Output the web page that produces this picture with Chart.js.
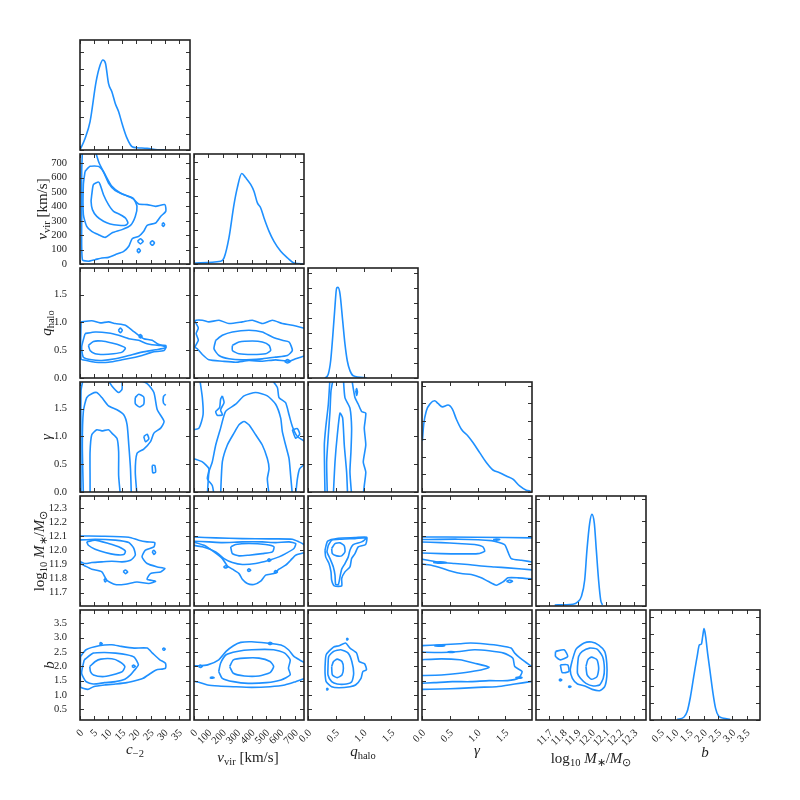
<!DOCTYPE html>
<html>
<head>
<meta charset="utf-8">
<script src="https://cdn.jsdelivr.net/npm/chart.js@4.4.1/dist/chart.umd.min.js"></script>
<style>
  body { margin: 0; background: #fff; }
  #fig { position: relative; width: 800px; height: 800px; }
  #fig canvas { position: absolute; }
  .lab { position: absolute; font-family: 'Liberation Serif', serif; font-size: 15px; line-height: 1;
         white-space: nowrap; color: #222; transform: translate(-50%, -50%); }
  .lab.rot { transform: translate(-50%, -50%) rotate(-90deg); }
  .lab sub { font-size: 70%; vertical-align: -0.3em; line-height: 0; }
</style>
</head>
<body>
<div id="fig"></div>
<script>
// 1D marginal densities [value, height in tick units]
const cDens = [[0,0],[1.79,0.71],[3.57,1.74],[5.71,4.19],[7.14,5.21],[8.1,5.52],[9.05,5.31],[10.1,4.09],[11.3,3.58],[12.5,2.86],[13.7,2.35],[14.9,1.63],[16.7,0.71],[18.5,0.2],[20.2,0.14],[23.8,0.1],[27.4,0.02],[30.4,0]];
const vDens = [[0,0.05],[12,0.06],[186,0.16],[209,0.36],[243,1.54],[278,3.51],[301,4.5],[332,5.35],[360,5.09],[394,4.7],[417,4.3],[441,3.61],[464,3.31],[487,2.72],[522,1.93],[556,1.34],[603,0.75],[650,0.36],[695,0.06],[765,0]];
const qDens = [[0.306,0],[0.366,0.27],[0.408,1.15],[0.444,2.71],[0.48,4.49],[0.516,6.0],[0.54,6.04],[0.576,5.6],[0.624,3.82],[0.665,2.27],[0.707,1.15],[0.755,0.49],[0.815,0.15],[1.055,0.02]];
const gDens = [[0.007,2.88],[0.031,3.82],[0.079,4.58],[0.151,4.99],[0.228,5.14],[0.288,4.99],[0.367,4.8],[0.468,4.9],[0.547,4.67],[0.619,4.1],[0.709,3.54],[0.827,3.16],[0.917,2.79],[1.038,2.22],[1.158,1.66],[1.277,1.24],[1.397,1.09],[1.518,0.9],[1.637,0.72],[1.757,0.34],[1.877,0.1],[1.955,0.06]];
const mDens = [[11.738,0.05],[11.867,0.08],[11.902,0.2],[11.926,0.44],[11.95,1.22],[11.966,2.63],[11.985,3.88],[12.001,4.3],[12.018,3.88],[12.032,2.63],[12.048,1.22],[12.063,0.28],[12.075,0.05]];
const bDens = [[1.073,0.04],[1.303,0.16],[1.421,0.49],[1.536,1.36],[1.65,2.53],[1.769,3.7],[1.849,4.39],[1.918,4.44],[1.963,4.87],[2.012,5.34],[2.068,4.87],[2.137,3.9],[2.231,2.73],[2.325,1.56],[2.416,0.68],[2.52,0.23],[2.694,0.1],[2.927,0.04]];

// contours, v_vir vs c_-2
const vc1 = [[4.17,482],[4.76,552],[6.55,570],[7.14,552],[8.33,482],[10.1,413],[11.9,366],[14.3,343],[16.1,320],[17.0,285],[16.1,269],[13.7,269],[10.7,278],[8.33,297],[5.95,331],[4.4,378],[3.93,436]];
const vc2 = [[1.79,644],[3.57,679],[6.55,679],[8.33,640],[10.1,563],[12.5,510],[16.1,478],[19.0,454],[20.2,401],[19.6,331],[17.9,269],[14.9,239],[11.3,216],[8.93,185],[6.55,204],[4.17,227],[2.38,262],[1.19,343],[1.19,552]];
const vc3 = [[5.6,775],[6.79,702],[8.93,621],[11.3,540],[14.3,494],[18.5,459],[20.8,417],[23.8,413],[26.8,401],[30.1,413],[30.4,366],[28.6,331],[26.8,285],[23.8,269],[22.6,227],[20.8,192],[18.5,176],[17.3,123],[15.5,88],[12.5,65],[10.1,46],[7.74,42],[5.36,30],[2.98,19],[0.83,30],[0.6,320],[0.6,644],[0.83,775]];
const vcI1 = [[20.4,158],[21.4,176],[22.4,158],[21.4,140]];
const vcI2 = [[24.8,146],[25.6,162],[26.4,146],[25.6,130]];
const vcI3 = [[20.2,93],[20.8,108],[21.4,93],[20.8,78]];
const vcI4 = [[29.0,274],[29.5,287],[30.0,274],[29.5,261]];

// q_halo vs c_-2
const qc1 = [[2.98,0.587],[4.76,0.659],[7.74,0.665],[11.3,0.629],[14.3,0.587],[16.1,0.538],[14.9,0.466],[11.9,0.436],[8.33,0.423],[5.36,0.436],[3.57,0.496]];
const qc2 = [[1.79,0.799],[5.36,0.829],[10.1,0.811],[13.7,0.768],[17.3,0.708],[20.8,0.678],[23.8,0.617],[28.0,0.587],[30.4,0.587],[30.4,0.544],[26.8,0.508],[22.0,0.466],[17.3,0.405],[12.5,0.345],[7.74,0.315],[4.17,0.327],[1.19,0.375],[0.6,0.557]];
const qc3 = [[0.36,1.01],[4.17,1.03],[7.14,0.992],[10.1,1.01],[12.5,0.98],[16.1,0.95],[18.5,0.859],[20.8,0.768],[22.6,0.708],[25.6,0.678],[27.4,0.617],[30.4,0.557],[29.8,0.496],[25.6,0.466],[22.0,0.405],[19.6,0.375],[14.9,0.327],[10.1,0.284],[5.36,0.284],[2.38,0.315],[0.36,0.345]];
const qcI1 = [[13.6,0.858],[14.3,0.9],[15.0,0.858],[14.3,0.816]];
const qcI2 = [[20.8,0.75],[21.4,0.78],[22.0,0.75],[21.4,0.72]];

// q_halo vs v_vir
const qv1 = [[267,0.587],[313,0.647],[406,0.665],[475,0.647],[522,0.587],[533,0.496],[498,0.436],[406,0.423],[313,0.436],[267,0.496]];
const qv2 = [[151,0.678],[197,0.768],[267,0.829],[382,0.859],[475,0.829],[545,0.738],[614,0.678],[661,0.647],[684,0.496],[649,0.405],[568,0.375],[475,0.345],[336,0.327],[243,0.345],[174,0.405],[139,0.526]];
const qv3 = [[775,0.405],[707,0.345],[661,0.302],[568,0.327],[475,0.302],[382,0.315],[290,0.284],[197,0.302],[104,0.327],[58,0.423],[23,0.526],[7,0.557],[30,0.68],[15,0.8],[30,0.9],[7,1.03],[58,1.04],[104,1.01],[174,1.04],[243,0.98],[336,1.01],[406,1.04],[475,0.98],[545,1.04],[614,0.98],[684,0.95],[775,0.889]];
const qvI1 = [[630,0.30],[650,0.33],[672,0.30],[650,0.27]];

// gamma vs c_-2
const gc1 = [[3.57,-0.05],[3.57,0.237],[3.57,0.724],[4.17,1.03],[5.95,1.12],[7.74,1.10],[10.1,1.12],[11.3,1.06],[13.1,0.967],[13.7,0.724],[13.7,0.298],[14.3,-0.05]];
const gc2 = [[1.19,-0.05],[0.83,0.846],[1.19,1.45],[2.38,1.70],[4.17,1.77],[5.95,1.79],[7.74,1.70],[10.1,1.55],[13.1,1.48],[15.5,1.39],[16.7,1.21],[17.3,0.846],[17.9,0.42],[18.2,-0.05]];
const gc3a = [[0.36,-0.05],[0.36,1.82],[1.19,2.05]];
const gc3b = [[9.52,2.05],[11.3,1.91],[13.7,1.79],[14.9,1.85],[14.9,2.05]];
const gc3c = [[19.6,2.05],[23.8,1.95],[26.2,1.79],[27.4,1.48],[29.8,1.27],[28.6,1.15],[26.2,1.06],[25.0,0.906],[22.6,0.773],[20.2,0.693],[19.6,0.359],[20.2,-0.05]];
const gcI1 = [[19.6,1.70],[20.8,1.76],[22.6,1.71],[22.6,1.58],[21.1,1.53],[19.6,1.59]];
const gcI2 = [[22.6,1.0],[23.8,1.04],[24.4,0.955],[23.2,0.906]];
const gcI3 = [[25.6,0.48],[26.5,0.48],[26.8,0.359],[25.8,0.347]];
const gcI4 = [[30.4,1.76],[29.6,1.72],[29.6,1.60],[30.4,1.56]];

// gamma vs v_vir
const gv1 = [[185,-0.05],[197,0.541],[232,0.846],[278,1.06],[313,1.21],[348,1.27],[382,1.21],[429,1.03],[475,0.846],[510,0.602],[522,0.42],[510,0.237],[522,-0.05]];
const gv2 = [[93,-0.05],[104,0.359],[127,0.541],[151,0.846],[185,1.15],[220,1.45],[290,1.58],[348,1.73],[429,1.79],[510,1.73],[568,1.58],[603,1.33],[614,1.09],[637,0.846],[661,0.602],[672,0.298],[684,-0.05]];
const gv3a = [[39,2.05],[58,1.70],[63,1.39],[35,1.15],[-5,1.12]];
const gv3b = [[-5,0.602],[58,0.541],[104,0.42],[93,0.237],[127,0.116],[139,-0.05]];
const gv3c = [[533,2.05],[580,1.88],[591,1.70],[637,1.61],[661,1.39],[684,1.18],[719,0.998],[775,0.906]];
const gv3d = [[775,0.511],[735,0.42],[719,0.237],[707,-0.05]];
const gvI1 = [[197,1.73],[209,1.61],[185,1.48],[197,1.39],[162,1.38],[151,1.45],[178,1.52],[185,1.67]];
const gvI2 = [[684,1.12],[719,1.14],[735,1.04],[707,0.967]];

// gamma vs q_halo
const gq1 = [[0.456,-0.05],[0.486,0.541],[0.528,1.03],[0.576,1.42],[0.624,1.33],[0.653,0.846],[0.695,0.359],[0.713,-0.05]];
const gq2a = [[0.348,-0.05],[0.336,0.541],[0.366,1.03],[0.396,1.45],[0.414,1.82],[0.456,2.05]];
const gq2b = [[0.636,2.05],[0.665,1.70],[0.755,1.51],[0.785,1.15],[0.773,0.724],[0.755,0.359],[0.785,-0.05]];
const gq3a = [[0.306,-0.05],[0.294,0.846],[0.318,1.15],[0.366,1.58],[0.396,2.05]];
const gq3b = [[0.785,2.05],[0.845,1.70],[0.905,1.58],[0.965,1.45],[1.04,1.42],[1.013,1.15],[1.04,0.846],[0.995,0.541],[1.04,0.359],[1.013,0.116],[0.995,-0.05]];
const gqI1 = [[0.86,1.82],[0.875,1.86],[0.89,1.80],[0.875,1.74]];

// log10 M* vs c_-2
const mc1 = [[2.38,12.059],[5.36,12.071],[10.1,12.047],[13.7,12.024],[16.1,11.993],[15.5,11.969],[12.5,11.969],[8.93,11.984],[5.36,12.007],[2.98,12.035]];
const mc2 = [[-1,12.071],[5.36,12.078],[12.5,12.071],[17.3,12.054],[19.0,12.016],[19.6,11.965],[17.9,11.929],[14.9,11.918],[11.3,11.922],[7.74,11.918],[4.17,11.913],[1.79,11.906],[-1,11.929]];
const mc3 = [[-1,12.101],[7.74,12.099],[17.3,12.092],[20.8,12.071],[23.8,12.059],[26.5,12.054],[26.2,12.024],[23.2,12.0],[22.0,11.953],[23.8,11.906],[27.4,11.882],[30.1,11.871],[28.6,11.847],[25.0,11.835],[23.8,11.795],[26.8,11.781],[24.4,11.765],[20.2,11.776],[16.1,11.760],[12.5,11.758],[9.52,11.788],[7.74,11.847],[4.17,11.866],[1.79,11.889],[-1,11.918]];
const mcI1 = [[25.6,11.99],[26.2,12.0],[26.8,11.984],[26.2,11.97]];
const mcI2 = [[8.5,11.788],[8.93,11.8],[9.4,11.788],[8.93,11.776]];
const mcI3 = [[15.3,11.85],[16.1,11.86],[16.9,11.847],[16.1,11.835]];

// log10 M* vs v_vir
const mv1 = [[255,12.024],[290,12.040],[382,12.047],[498,12.040],[556,12.024],[545,11.988],[475,11.976],[382,11.965],[313,11.960],[267,11.976]];
const mv2 = [[-5,12.064],[104,12.059],[197,12.054],[336,12.059],[475,12.059],[568,12.054],[661,12.059],[707,12.047],[695,12.012],[637,11.976],[591,11.953],[522,11.929],[429,11.906],[336,11.899],[267,11.913],[209,11.941],[151,11.988],[58,12.024],[-5,12.035]];
const mv3a = [[-5,12.094],[151,12.087],[336,12.082],[522,12.080],[684,12.078],[730,12.059],[775,12.035]];
const mv3b = [[775,11.984],[707,11.965],[672,11.929],[637,11.894],[591,11.866],[556,11.835],[498,11.824],[464,11.781],[417,11.758],[371,11.765],[336,11.795],[313,11.835],[267,11.866],[232,11.889],[197,11.941],[139,11.988],[70,12.035],[-5,12.059]];
const mvI1 = [[510,11.93],[522,11.94],[534,11.93],[522,11.92]];
const mvI2 = [[556,11.847],[568,11.857],[580,11.847],[568,11.837]];
const mvI3 = [[370,11.859],[382,11.868],[394,11.859],[382,11.85]];
const mvI4 = [[205,11.882],[220,11.89],[235,11.882],[220,11.874]];

// log10 M* vs q_halo
const mq1 = [[0.426,12.012],[0.486,12.047],[0.576,12.052],[0.653,12.031],[0.665,11.988],[0.606,11.960],[0.516,11.960],[0.438,11.976]];
const mq2 = [[0.366,12.035],[0.426,12.071],[0.606,12.078],[0.845,12.082],[1.055,12.087],[0.965,12.059],[0.815,12.040],[0.755,12.0],[0.725,11.953],[0.665,11.906],[0.606,11.866],[0.576,11.812],[0.546,11.758],[0.498,11.758],[0.486,11.824],[0.456,11.882],[0.396,11.941],[0.342,11.988]];
const mq3 = [[0.306,12.0],[0.354,12.064],[0.546,12.085],[0.845,12.089],[1.055,12.092],[1.037,12.040],[0.905,12.024],[0.845,11.976],[0.785,11.941],[0.755,11.882],[0.665,11.847],[0.606,11.8],[0.606,11.748],[0.474,11.748],[0.426,11.788],[0.414,11.847],[0.378,11.906],[0.318,11.953]];

// log10 M* vs gamma
const mg1 = [[-0.05,12.059],[0.348,12.054],[0.647,12.047],[0.947,12.040],[1.097,12.024],[1.127,11.993],[1.007,11.976],[0.647,11.974],[0.348,11.976],[-0.05,11.981]];
const mg2a = [[-0.05,12.075],[0.647,12.078],[1.247,12.068],[1.487,12.040],[1.547,11.988],[1.607,11.941],[1.787,11.929],[2.05,11.913]];
const mg2b = [[2.05,11.859],[1.547,11.875],[1.307,11.882],[1.067,11.889],[0.827,11.899],[0.588,11.906],[0.348,11.913],[0.108,11.929],[-0.05,11.941]];
const mg3a = [[-0.05,12.094],[0.947,12.092],[2.05,12.087]];
const mg3b = [[2.05,11.795],[1.727,11.805],[1.547,11.805],[1.457,11.776],[1.337,11.753],[1.187,11.781],[1.067,11.805],[0.887,11.828],[0.707,11.835],[0.528,11.852],[0.348,11.875],[0.168,11.894],[-0.05,11.906]];
const mgI1 = [[1.52,11.781],[1.577,11.79],[1.63,11.781],[1.577,11.772]];
const mgI2 = [[0.2,11.913],[0.32,11.918],[0.44,11.913],[0.32,11.908]];
const mgI3 = [[1.28,12.075],[1.337,12.079],[1.40,12.075],[1.337,12.071]];

// b vs c_-2
const bc1 = [[3.46,1.99],[5.42,2.167],[7.39,2.25],[11.3,2.261],[13.9,2.167],[15.9,1.99],[15.0,1.815],[11.3,1.697],[8.04,1.639],[4.77,1.697],[3.72,1.815]];
const bc2 = [[1.49,2.226],[4.77,2.461],[8.7,2.485],[12.6,2.461],[16.6,2.403],[19.2,2.32],[20.7,2.05],[19.2,1.85],[17.9,1.697],[15.9,1.544],[12.6,1.462],[8.7,1.427],[4.77,1.38],[2.15,1.462],[0.58,1.756]];
const bc3 = [[0.18,2.344],[2.15,2.579],[6.73,2.72],[11.3,2.755],[14.6,2.696],[19.2,2.637],[23.8,2.637],[25.7,2.461],[28.3,2.226],[30.3,2.108],[30.3,1.932],[27.0,1.874],[25.1,1.756],[22.4,1.58],[20.5,1.521],[16.6,1.427],[12.6,1.38],[8.7,1.345],[4.77,1.286],[2.8,1.192],[0.18,1.286]];
const bcI1 = [[6.9,2.79],[7.39,2.83],[7.9,2.79],[7.39,2.75]];
const bcI2 = [[29.2,2.6],[29.7,2.64],[30.2,2.6],[29.7,2.56]];
const bcI3 = [[18.4,2.0],[19.0,2.04],[19.6,2.0],[19.0,1.96]];

// b vs v_vir
const bv1 = [[248,1.99],[274,2.226],[350,2.285],[452,2.285],[529,2.167],[554,1.99],[529,1.78],[452,1.662],[350,1.662],[274,1.756]];
const bv2 = [[172,1.815],[185,2.108],[223,2.403],[299,2.52],[401,2.579],[554,2.579],[631,2.461],[669,2.226],[657,1.932],[669,1.697],[605,1.521],[503,1.427],[376,1.403],[274,1.462],[197,1.58]];
const bv3a = [[-5,2.014],[14,2.014],[95,2.05],[172,2.226],[223,2.52],[274,2.72],[325,2.837],[401,2.86],[503,2.814],[605,2.743],[657,2.579],[695,2.344],[733,2.226],[775,2.108]];
const bv3b = [[775,1.58],[707,1.462],[631,1.345],[529,1.286],[401,1.263],[274,1.286],[172,1.31],[95,1.345],[44,1.427],[14,1.462],[-5,1.48]];
const bvI1 = [[30,2.0],[44,2.04],[58,2.0],[44,1.96]];
const bvI2 = [[515,2.8],[529,2.84],[543,2.8],[529,2.76]];
const bvI3 = [[110,1.6],[125,1.62],[140,1.6],[125,1.58]];

// b vs q_halo
const bq1 = [[0.426,1.99],[0.459,2.167],[0.525,2.25],[0.611,2.167],[0.637,1.932],[0.611,1.697],[0.525,1.603],[0.439,1.697]];
const bq2 = [[0.36,1.99],[0.373,2.344],[0.459,2.52],[0.591,2.579],[0.723,2.461],[0.789,2.167],[0.822,1.756],[0.789,1.462],[0.69,1.38],[0.525,1.38],[0.426,1.462],[0.36,1.697]];
const bq3 = [[0.307,1.99],[0.327,2.403],[0.459,2.673],[0.558,2.72],[0.677,2.814],[0.756,2.637],[0.875,2.461],[0.921,2.167],[1.02,2.085],[1.052,1.874],[0.987,1.815],[0.954,1.58],[0.855,1.345],[0.756,1.286],[0.558,1.251],[0.426,1.286],[0.327,1.462],[0.307,1.756]];
const bqI1 = [[0.69,2.95],[0.705,2.98],[0.72,2.95],[0.705,2.92]];
const bqI2 = [[0.33,1.2],[0.345,1.23],[0.36,1.2],[0.345,1.17]];

// b vs gamma
const bg1 = [[-0.05,2.226],[0.349,2.261],[0.679,2.226],[0.943,2.108],[1.207,1.968],[1.009,1.85],[0.679,1.756],[0.349,1.697],[-0.05,1.674]];
const bg2 = [[-0.05,2.497],[0.349,2.485],[0.679,2.52],[0.943,2.579],[1.207,2.543],[1.471,2.461],[1.636,2.285],[1.669,1.99],[1.801,1.815],[1.735,1.58],[1.537,1.497],[1.207,1.497],[0.877,1.462],[0.547,1.462],[0.217,1.427],[-0.05,1.403]];
const bg3 = [[-0.05,2.72],[0.349,2.755],[0.679,2.79],[0.877,2.814],[1.141,2.779],[1.405,2.72],[1.603,2.637],[1.669,2.461],[1.768,2.285],[1.933,2.05],[2.05,1.9],[2.05,1.5],[1.953,1.462],[1.669,1.38],[1.339,1.286],[1.009,1.263],[0.679,1.227],[0.349,1.204],[-0.05,1.192]];
const bgI1 = [[0.22,2.72],[0.316,2.74],[0.41,2.72],[0.316,2.70]];
const bgI2 = [[0.46,2.5],[0.52,2.52],[0.58,2.5],[0.52,2.48]];
const bgI3 = [[1.68,1.6],[1.74,1.62],[1.80,1.6],[1.74,1.58]];

// b vs log10 M*
const bm1 = [[11.959,1.99],[11.972,2.226],[11.998,2.32],[12.037,2.226],[12.049,1.932],[12.037,1.639],[11.998,1.544],[11.967,1.697]];
const bm2 = [[11.899,1.99],[11.907,2.344],[11.933,2.52],[11.985,2.637],[12.037,2.602],[12.076,2.344],[12.089,1.932],[12.081,1.58],[12.055,1.345],[12.011,1.31],[11.959,1.403],[11.92,1.58],[11.899,1.756]];
const bm3 = [[11.863,2.226],[11.889,2.602],[11.946,2.814],[11.998,2.849],[12.049,2.743],[12.091,2.52],[12.106,2.108],[12.106,1.639],[12.091,1.286],[12.055,1.145],[12.003,1.192],[11.951,1.31],[11.899,1.38],[11.863,1.58],[11.848,1.874]];
const bmI1 = [[11.744,2.52],[11.804,2.579],[11.83,2.344],[11.778,2.226],[11.744,2.344]];
const bmI2 = [[11.778,2.05],[11.83,2.05],[11.838,1.815],[11.791,1.78]];
const bmI3 = [[11.768,1.52],[11.778,1.55],[11.788,1.52],[11.778,1.49]];
const bmI4 = [[11.833,1.286],[11.843,1.31],[11.853,1.286],[11.843,1.26]];

// axis ranges and ticks: c_-2, v_vir, q_halo, gamma, log10 M*, b
const axes = [
  { min: 0, max: 39, step: 5, dec: 0 },
  { min: 0, max: 765, step: 100, dec: 0 },
  { min: 0, max: 1.98, step: 0.5, dec: 1 },
  { min: 0, max: 1.98, step: 0.5, dec: 1 },
  { min: 11.606, max: 12.383, step: 0.1, dec: 1 },
  { min: 0.12, max: 3.97, step: 0.5, dec: 1 }
];
const diagTop = [6.75, 6.5, 7.33, 6.2, 5.16, 6.43];

const ring = a => a.concat([a[0]]);

const panels = [
  { col: 0, row: 0, dens: cDens },
  { col: 1, row: 1, dens: vDens },
  { col: 2, row: 2, dens: qDens },
  { col: 3, row: 3, dens: gDens },
  { col: 4, row: 4, dens: mDens },
  { col: 5, row: 5, dens: bDens },
  { col: 0, row: 1, lines: [ring(vc1), ring(vc2), vc3, ring(vcI1), ring(vcI2), ring(vcI3), ring(vcI4)] },
  { col: 0, row: 2, lines: [ring(qc1), ring(qc2), ring(qc3), ring(qcI1), ring(qcI2)] },
  { col: 1, row: 2, lines: [ring(qv1), ring(qv2), qv3, ring(qvI1)] },
  { col: 0, row: 3, lines: [gc1, gc2, gc3a, gc3b, gc3c, ring(gcI1), ring(gcI2), ring(gcI3), gcI4] },
  { col: 1, row: 3, lines: [gv1, gv2, gv3a, gv3b, gv3c, gv3d, ring(gvI1), ring(gvI2)] },
  { col: 2, row: 3, lines: [gq1, gq2a, gq2b, gq3a, gq3b, ring(gqI1)] },
  { col: 0, row: 4, lines: [ring(mc1), mc2, mc3, ring(mcI1), ring(mcI2), ring(mcI3)] },
  { col: 1, row: 4, lines: [ring(mv1), mv2, mv3a, mv3b, ring(mvI1), ring(mvI2), ring(mvI3), ring(mvI4)] },
  { col: 2, row: 4, lines: [ring(mq1), ring(mq2), ring(mq3)] },
  { col: 3, row: 4, lines: [mg1, mg2a, mg2b, mg3a, mg3b, ring(mgI1), ring(mgI2), ring(mgI3)] },
  { col: 0, row: 5, lines: [ring(bc1), ring(bc2), ring(bc3), ring(bcI1), ring(bcI2), ring(bcI3)] },
  { col: 1, row: 5, lines: [ring(bv1), ring(bv2), bv3a, bv3b, ring(bvI1), ring(bvI2), ring(bvI3)] },
  { col: 2, row: 5, lines: [ring(bq1), ring(bq2), ring(bq3), ring(bqI1), ring(bqI2)] },
  { col: 3, row: 5, lines: [bg1, bg2, bg3, ring(bgI1), ring(bgI2), ring(bgI3)] },
  { col: 4, row: 5, lines: [ring(bm1), ring(bm2), ring(bm3), ring(bmI1), ring(bmI2), ring(bmI3), ring(bmI4)] }
];

const xTitles = [
  ['<i>c</i><sub>−2</sub>', 135, 749],
  ['<i>v</i><sub>vir</sub> [km/s]', 248, 757],
  ['<i>q</i><sub>halo</sub>', 363, 751],
  ['<i>γ</i>', 477, 750],
  ['log<sub>10</sub> <i>M</i><sub>∗</sub>/<i>M</i><sub>⊙</sub>', 591, 758],
  ['<i>b</i>', 705, 752]
];
const yTitles = [
  ['<i>v</i><sub>vir</sub> [km/s]', 42, 209],
  ['<i>q</i><sub>halo</sub>', 46, 323],
  ['<i>γ</i>', 46, 437],
  ['log<sub>10</sub> <i>M</i><sub>∗</sub>/<i>M</i><sub>⊙</sub>', 39, 551],
  ['<i>b</i>', 49, 665]
];

const BLUE = '#1e90ff';
const INK = '#222';
const tickFont = { family: "'Liberation Serif', serif", size: 10.5 };
const fig = document.getElementById('fig');

// inward ticks on all four sides plus the box
const frame = {
  id: 'frame',
  afterDraw(chart) {
    const { ctx, chartArea: a, scales: { x, y } } = chart;
    ctx.save();
    ctx.strokeStyle = '#333';
    ctx.lineWidth = 1;
    ctx.beginPath();
    x.ticks.forEach(t => {
      const px = Math.round(x.getPixelForValue(t.value)) + 0.5;
      ctx.moveTo(px, a.bottom); ctx.lineTo(px, a.bottom - 4);
      ctx.moveTo(px, a.top); ctx.lineTo(px, a.top + 4);
    });
    y.ticks.forEach(t => {
      const py = Math.round(y.getPixelForValue(t.value)) + 0.5;
      ctx.moveTo(a.left, py); ctx.lineTo(a.left + 4, py);
      ctx.moveTo(a.right, py); ctx.lineTo(a.right - 4, py);
    });
    ctx.stroke();
    ctx.strokeStyle = INK;
    ctx.lineWidth = 1.6;
    ctx.strokeRect(a.left, a.top, a.width, a.height);
    ctx.restore();
  }
};

function scaleOpts(a, show, size, horiz) {
  return {
    type: 'linear',
    min: a.min,
    max: a.max,
    grid: { display: false },
    border: { display: false },
    ticks: {
      display: show,
      stepSize: a.step,
      includeBounds: false,
      autoSkip: false,
      font: tickFont,
      color: INK,
      padding: horiz ? -1 : 5,
      minRotation: horiz ? 45 : 0,
      maxRotation: horiz ? 45 : 0,
      labelOffset: horiz ? 2 : 0,
      callback: v => v.toFixed(a.dec)
    },
    afterFit(s) {
      if (horiz) s.height = size; else s.width = size;
      s.paddingLeft = s.paddingRight = s.paddingTop = s.paddingBottom = 0;
    }
  };
}

function drawPanel(p) {
  const left = p.col === 0;
  const bottom = p.row === 5;
  const L = left ? 80 : (bottom ? 24 : 2);
  const T = left ? 8 : 2;
  const R = 2;
  const B = bottom ? 50 : (left ? 8 : 2);
  const px = 80 + 114 * p.col, py = 40 + 114 * p.row;

  const cv = document.createElement('canvas');
  cv.width = 110 + L + R;
  cv.height = 110 + T + B;
  cv.style.left = (px - L) + 'px';
  cv.style.top = (py - T) + 'px';
  fig.appendChild(cv);

  const diag = p.col === p.row;
  const ya = diag ? { min: 0, max: diagTop[p.row], step: 1, dec: 0 } : axes[p.row];
  const toXY = arr => arr.map(([x, y]) => ({ x, y }));
  const datasets = diag
    ? [{ data: toXY(p.dens), cubicInterpolationMode: 'monotone' }]
    : p.lines.map(arr => ({ data: toXY(arr), tension: 0.2 }));
  datasets.forEach(d => Object.assign(d, {
    showLine: true, borderColor: BLUE, borderWidth: 1.6, pointRadius: 0, fill: false
  }));

  new Chart(cv, {
    type: 'scatter',
    data: { datasets },
    options: {
      responsive: false,
      animation: false,
      events: [],
      layout: { padding: { top: T, right: R, left: 0, bottom: 0 }, autoPadding: false },
      plugins: { legend: { display: false }, tooltip: { enabled: false } },
      scales: {
        x: scaleOpts(axes[p.col], bottom, B, true),
        y: scaleOpts(ya, left && !diag, L, false)
      }
    },
    plugins: [frame]
  });
}

panels.forEach(drawPanel);

function addTitle(html, x, y, rot) {
  const d = document.createElement('div');
  d.className = 'lab' + (rot ? ' rot' : '');
  d.innerHTML = html;
  d.style.left = x + 'px';
  d.style.top = y + 'px';
  fig.appendChild(d);
}
xTitles.forEach(([t, x, y]) => addTitle(t, x, y, false));
yTitles.forEach(([t, x, y]) => addTitle(t, x, y, true));
</script>
</body>
</html>
